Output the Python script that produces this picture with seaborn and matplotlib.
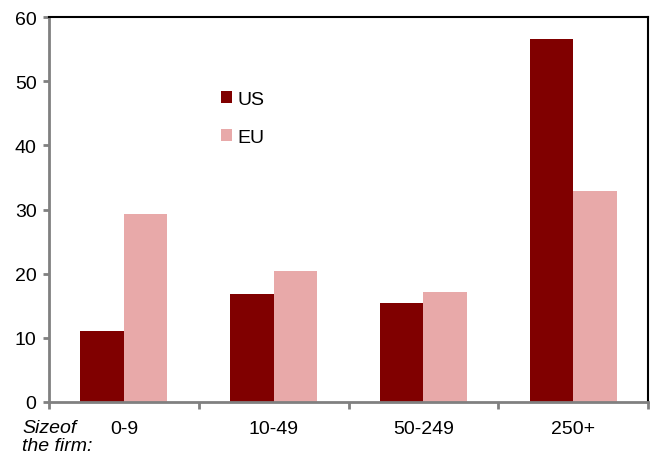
import numpy as np
import pandas as pd
import matplotlib
matplotlib.use("Agg")
import matplotlib.pyplot as plt
import seaborn as sns
from matplotlib.patches import Patch

# firm size classes and shares (%)
sizes = ["0-9", "10-49", "50-249", "250+"]
us_vals = [11.0, 16.8, 15.4, 56.6]
eu_vals = [29.3, 20.4, 17.1, 32.9]
regions = ["US", "EU"]
colors = ["#800000", "#E8A9A9"]

df = pd.DataFrame({
    "size": sizes * 2,
    "share": us_vals + eu_vals,
    "region": ["US"] * len(sizes) + ["EU"] * len(sizes),
})

sns.set_style("white")
plt.rcParams["font.family"] = ["Liberation Sans", "DejaVu Sans"]
plt.rcParams["text.color"] = "black"

fig = plt.figure(figsize=(6.53, 4.77), dpi=100)
ax = fig.add_axes([49 / 653, 1 - 403 / 477, (648 - 49) / 653, (403 - 18) / 477])

sns.barplot(data=df, x="size", y="share", hue="region", hue_order=regions,
            palette=colors, width=0.58, saturation=1, linewidth=0,
            ax=ax, legend=False)

ax.set_xlim(-0.5, 3.5)
ax.set_ylim(0, 60)
ax.set_yticks(range(0, 61, 10))
ax.set_xlabel("")
ax.set_ylabel("")

# spines: gray axes on left/bottom, black frame top/right
for s in ["left", "bottom"]:
    ax.spines[s].set_color("#808080")
    ax.spines[s].set_linewidth(2)
for s in ["top", "right"]:
    ax.spines[s].set_color("black")
    ax.spines[s].set_linewidth(1.5)

ax.tick_params(axis="y", length=4, width=2, color="#808080", pad=5,
               labelsize=14, labelcolor="black", left=True)
ax.tick_params(axis="x", which="major", length=0, pad=13, labelsize=14,
               labelcolor="black")
ax.set_xticks(np.arange(-0.5, 4.0, 1.0), minor=True)
ax.tick_params(axis="x", which="minor", length=5, width=2, color="#808080",
               bottom=True)

# legend
handles = [Patch(facecolor=c, edgecolor="none", label=r) for r, c in zip(regions, colors)]
leg = fig.legend(handles=handles, loc="upper left", bbox_to_anchor=(203 / 653, 1 - 74 / 477),
                 frameon=False, fontsize=14, handlelength=0.6, handleheight=0.6,
                 handletextpad=0.25, labelspacing=1.1)
for t in leg.get_texts():
    t.set_color("black")

fig.text(22 / 653, 1 - 420 / 477, "Sizeof\nthe firm:", fontsize=14, style="italic",
         va="top", ha="left", linespacing=1.08, color="black")

fig.savefig("out.png", dpi=100)
